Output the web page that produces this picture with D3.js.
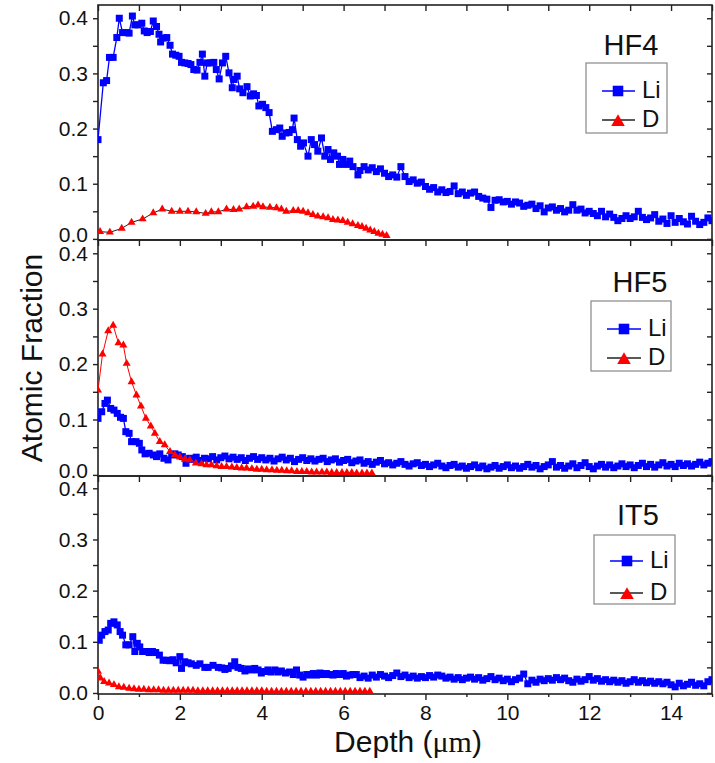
<!DOCTYPE html>
<html>
<head>
<meta charset="utf-8">
<script src="https://cdn.jsdelivr.net/npm/d3@7"></script>
<style>
  body { margin: 0; background: #fff; }
  svg { display: block; }
  text { font-family: "Liberation Sans", Arial, sans-serif; fill: #111; }
</style>
</head>
<body>
<svg id="chart" width="715" height="763"></svg>
<script>
// ---- tick labels & names ----
const depthTicks = [0, 2, 4, 6, 8, 10, 12, 14];
const fractionTicks = [0, 0.1, 0.2, 0.3, 0.4];
const sampleNames = ["HF4", "HF5", "IT5"];
const seriesNames = ["Li", "D"];

// ---- depth profiles: [depth (µm), atomic fraction] ----
const hf4Li = [
  [0.00,0.180],[0.13,0.283],[0.21,0.287],[0.28,0.329],[0.37,0.329],[0.46,0.365],[0.52,0.400],[0.60,0.374],
  [0.70,0.374],[0.76,0.373],[0.84,0.404],[0.90,0.388],[0.98,0.388],[1.07,0.391],[1.13,0.377],[1.20,0.374],
  [1.28,0.376],[1.35,0.395],[1.43,0.385],[1.49,0.371],[1.53,0.357],[1.59,0.364],[1.68,0.365],[1.76,0.351],
  [1.82,0.335],[1.90,0.333],[1.98,0.331],[2.04,0.320],[2.12,0.319],[2.20,0.318],[2.27,0.316],[2.34,0.307],
  [2.42,0.306],[2.49,0.320],[2.55,0.335],[2.61,0.295],[2.67,0.319],[2.75,0.319],[2.83,0.320],[2.89,0.307],
  [2.96,0.290],[3.04,0.319],[3.12,0.331],[3.20,0.301],[3.28,0.274],[3.32,0.289],[3.40,0.295],[3.46,0.272],
  [3.54,0.265],[3.64,0.276],[3.72,0.259],[3.80,0.263],[3.87,0.260],[3.93,0.241],[4.02,0.244],[4.10,0.238],
  [4.18,0.229],[4.26,0.195],[4.36,0.198],[4.44,0.201],[4.50,0.186],[4.59,0.192],[4.67,0.193],[4.75,0.198],
  [4.79,0.219],[4.87,0.180],[4.95,0.168],[5.02,0.174],[5.13,0.150],[5.21,0.180],[5.29,0.171],[5.37,0.159],
  [5.46,0.183],[5.54,0.150],[5.62,0.162],[5.68,0.144],[5.76,0.156],[5.85,0.150],[5.90,0.135],[5.98,0.144],
  [6.07,0.135],[6.15,0.141],[6.23,0.131],[6.35,0.116],
  [6.4,0.124],[6.5,0.131],[6.6,0.125],[6.7,0.129],[6.8,0.122],[6.9,0.127],[7.0,0.119],[7.1,0.113],
  [7.2,0.116],[7.3,0.112],[7.4,0.131],[7.5,0.113],[7.6,0.104],[7.7,0.107],[7.8,0.101],[7.9,0.103],
  [8.0,0.095],[8.1,0.090],[8.2,0.093],[8.3,0.085],[8.4,0.089],[8.5,0.084],[8.6,0.086],[8.7,0.096],
  [8.8,0.082],[8.9,0.085],[9.0,0.079],[9.1,0.083],[9.2,0.085],[9.3,0.077],[9.4,0.074],[9.5,0.072],
  [9.6,0.057],[9.7,0.070],[9.8,0.071],[9.9,0.067],[10.0,0.068],[10.1,0.063],[10.2,0.067],[10.3,0.065],
  [10.4,0.059],[10.5,0.061],[10.6,0.063],[10.7,0.055],[10.8,0.060],[10.9,0.049],[11.0,0.056],[11.1,0.058],
  [11.2,0.052],[11.3,0.055],[11.4,0.049],[11.5,0.052],[11.6,0.062],[11.7,0.052],[11.8,0.054],[11.9,0.047],
  [12.0,0.050],[12.1,0.046],[12.2,0.042],[12.3,0.050],[12.4,0.040],[12.5,0.045],[12.6,0.039],[12.7,0.033],
  [12.8,0.037],[12.9,0.042],[13.0,0.037],[13.1,0.040],[13.2,0.050],[13.3,0.039],[13.4,0.035],[13.5,0.038],
  [13.6,0.044],[13.7,0.032],[13.8,0.036],[13.9,0.028],[14.0,0.042],[14.1,0.030],[14.2,0.037],[14.3,0.031],
  [14.4,0.027],[14.5,0.041],[14.6,0.032],[14.7,0.026],[14.8,0.030],[14.9,0.038],[15.0,0.033]
];
const hf4D = [
  [0.05,0.013],[0.29,0.012],[0.58,0.019],[0.82,0.030],[1.09,0.036],[1.35,0.047],[1.57,0.054],[1.80,0.050],
  [2.00,0.050],[2.20,0.050],[2.40,0.049],[2.63,0.046],[2.77,0.049],[2.94,0.049],[3.14,0.054],[3.31,0.053],
  [3.45,0.054],[3.63,0.058],[3.79,0.059],[3.91,0.061],[4.03,0.058],[4.20,0.057],[4.36,0.056],[4.48,0.054],
  [4.60,0.050],[4.77,0.051],[4.89,0.051],[5.01,0.050],[5.13,0.047],[5.25,0.044],[5.37,0.041],[5.50,0.040],
  [5.62,0.038],[5.74,0.035],[5.86,0.034],[5.98,0.033],[6.10,0.030],[6.22,0.027],[6.35,0.024],[6.45,0.022],
  [6.55,0.019],[6.65,0.016],[6.75,0.013],[6.85,0.010],[6.95,0.008],[7.05,0.006]
];
const hf5Li = [
  [0.00,0.102],[0.09,0.114],[0.17,0.129],[0.23,0.135],[0.31,0.120],[0.39,0.117],[0.47,0.111],[0.55,0.104],
  [0.62,0.102],[0.68,0.078],[0.76,0.075],[0.82,0.060],[0.93,0.060],[1.01,0.057],[1.07,0.045],[1.15,0.038],
  [1.25,0.039],[1.35,0.036],[1.43,0.033],[1.51,0.038],[1.61,0.030],[1.71,0.027],[1.80,0.036],[1.88,0.038],
  [1.96,0.036],[2.06,0.033],[2.15,0.021],[2.24,0.030],
  [2.3,0.028],[2.4,0.032],[2.5,0.026],[2.6,0.030],[2.7,0.029],[2.8,0.033],[2.9,0.027],[3.0,0.031],
  [3.1,0.034],[3.2,0.029],[3.3,0.032],[3.4,0.028],[3.5,0.031],[3.6,0.026],[3.7,0.030],[3.8,0.033],
  [3.9,0.028],[4.0,0.031],[4.1,0.027],[4.2,0.030],[4.3,0.025],[4.4,0.029],[4.5,0.032],[4.6,0.027],
  [4.7,0.030],[4.8,0.024],[4.9,0.028],[5.0,0.031],[5.1,0.026],[5.2,0.029],[5.3,0.025],[5.4,0.028],
  [5.5,0.030],[5.6,0.024],[5.7,0.027],[5.8,0.029],[5.9,0.023],[6.0,0.026],[6.1,0.028],[6.2,0.022],
  [6.3,0.025],[6.4,0.027],[6.5,0.021],[6.6,0.024],[6.7,0.019],[6.8,0.023],[6.9,0.026],[7.0,0.020],
  [7.1,0.022],[7.2,0.018],[7.3,0.021],[7.4,0.024],[7.5,0.019],[7.6,0.016],[7.7,0.020],[7.8,0.022],
  [7.9,0.017],[8.0,0.019],[8.1,0.015],[8.2,0.018],[8.3,0.021],[8.4,0.016],[8.5,0.013],[8.6,0.017],
  [8.7,0.019],[8.8,0.014],[8.9,0.016],[9.0,0.012],[9.1,0.015],[9.2,0.018],[9.3,0.013],[9.4,0.016],
  [9.5,0.011],[9.6,0.014],[9.7,0.017],[9.8,0.012],[9.9,0.015],[10.0,0.018],[10.1,0.013],[10.2,0.016],
  [10.3,0.012],[10.4,0.015],[10.5,0.019],[10.6,0.014],[10.7,0.017],[10.8,0.011],[10.9,0.015],[11.0,0.018],
  [11.1,0.024],[11.2,0.014],[11.3,0.017],[11.4,0.012],[11.5,0.016],[11.6,0.020],[11.7,0.013],[11.8,0.017],
  [11.9,0.022],[12.0,0.015],[12.1,0.011],[12.2,0.016],[12.3,0.019],[12.4,0.014],[12.5,0.018],[12.6,0.013],
  [12.7,0.016],[12.8,0.020],[12.9,0.015],[13.0,0.018],[13.1,0.013],[13.2,0.017],[13.3,0.021],[13.4,0.015],
  [13.5,0.019],[13.6,0.014],[13.7,0.018],[13.8,0.022],[13.9,0.016],[14.0,0.019],[14.1,0.015],[14.2,0.021],
  [14.3,0.017],[14.4,0.020],[14.5,0.016],[14.6,0.019],[14.7,0.023],[14.8,0.018],[14.9,0.021],[15.0,0.024]
];
const hf5D = [
  [0.00,0.153],[0.11,0.218],[0.25,0.260],[0.37,0.270],[0.50,0.238],[0.62,0.234],[0.70,0.201],[0.82,0.168],
  [0.94,0.144],[1.05,0.124],[1.17,0.102],[1.29,0.088],[1.39,0.075],[1.51,0.060],[1.63,0.054],[1.76,0.042],
  [1.88,0.036],[2.00,0.032],[2.12,0.028],[2.24,0.027],[2.39,0.021],[2.53,0.020],[2.65,0.018],[2.77,0.018],
  [2.90,0.016],[3.02,0.015],[3.14,0.015],[3.27,0.014],[3.39,0.013],[3.51,0.012],[3.63,0.012],[3.76,0.011],
  [3.88,0.010],[4.00,0.010],[4.12,0.009],[4.25,0.009],[4.37,0.008],[4.49,0.008],[4.61,0.007],[4.73,0.007],
  [4.86,0.006],[4.98,0.006],[5.10,0.006],[5.22,0.005],[5.34,0.005],[5.47,0.005],[5.59,0.005],[5.71,0.004],
  [5.83,0.004],[5.96,0.004],[6.08,0.004],[6.20,0.004],[6.32,0.003],[6.45,0.003],[6.57,0.003],[6.69,0.003]
];
const it5Li = [
  [0.03,0.103],[0.09,0.113],[0.17,0.120],[0.25,0.123],[0.31,0.136],[0.39,0.139],[0.47,0.133],[0.54,0.120],
  [0.60,0.113],[0.68,0.094],[0.76,0.094],[0.85,0.110],[0.90,0.081],[0.96,0.097],[1.02,0.090],[1.09,0.081],
  [1.17,0.081],[1.25,0.079],[1.33,0.081],[1.41,0.079],[1.50,0.074],[1.59,0.064],[1.67,0.064],[1.75,0.063],
  [1.83,0.065],[1.91,0.059],[2.00,0.071],[2.04,0.048],[2.12,0.061],[2.20,0.059],[2.28,0.057],[2.40,0.054],
  [2.49,0.057],[2.61,0.050],[2.69,0.050],[2.81,0.054],[2.94,0.050],[3.02,0.049],[3.10,0.046],[3.18,0.048],
  [3.26,0.053],[3.34,0.061],[3.42,0.050],[3.50,0.048],[3.59,0.043],[3.67,0.047],[3.75,0.045],[3.83,0.048],
  [3.91,0.045],[3.99,0.039],[4.07,0.042],[4.15,0.045],[4.23,0.041],[4.32,0.045],[4.40,0.041],[4.48,0.043],
  [4.58,0.039],[4.68,0.041],[4.77,0.036],[4.85,0.045],[4.93,0.035],[5.01,0.031],[5.10,0.036],[5.18,0.035],
  [5.26,0.038],[5.34,0.035],[5.42,0.039],[5.50,0.036],[5.58,0.038],[5.66,0.036],[5.74,0.035],[5.82,0.038],
  [5.90,0.036],[5.99,0.038],[6.07,0.033],[6.15,0.035],[6.23,0.036],[6.31,0.036],
  [6.4,0.030],[6.5,0.033],[6.6,0.029],[6.7,0.035],[6.8,0.031],[6.9,0.036],[7.0,0.033],[7.1,0.030],
  [7.2,0.034],[7.3,0.039],[7.4,0.032],[7.5,0.035],[7.6,0.030],[7.7,0.033],[7.8,0.029],[7.9,0.032],
  [8.0,0.030],[8.1,0.034],[8.2,0.031],[8.3,0.035],[8.4,0.033],[8.5,0.029],[8.6,0.031],[8.7,0.027],
  [8.8,0.030],[8.9,0.026],[9.0,0.029],[9.1,0.031],[9.2,0.027],[9.3,0.030],[9.4,0.025],[9.5,0.028],
  [9.6,0.032],[9.7,0.026],[9.8,0.029],[9.9,0.024],[10.0,0.027],[10.1,0.022],[10.2,0.026],[10.3,0.029],
  [10.4,0.037],[10.5,0.018],[10.6,0.025],[10.7,0.021],[10.8,0.027],[10.9,0.024],[11.0,0.028],[11.1,0.025],
  [11.2,0.030],[11.3,0.026],[11.4,0.029],[11.5,0.024],[11.6,0.021],[11.7,0.027],[11.8,0.023],[11.9,0.026],
  [12.0,0.032],[12.1,0.025],[12.2,0.028],[12.3,0.023],[12.4,0.026],[12.5,0.022],[12.6,0.025],[12.7,0.021],
  [12.8,0.024],[12.9,0.019],[13.0,0.022],[13.1,0.026],[13.2,0.021],[13.3,0.024],[13.4,0.020],[13.5,0.023],
  [13.6,0.019],[13.7,0.022],[13.8,0.018],[13.9,0.021],[14.0,0.016],[14.1,0.012],[14.2,0.019],[14.3,0.014],
  [14.4,0.017],[14.5,0.021],[14.6,0.015],[14.7,0.018],[14.8,0.014],[14.9,0.022],[15.0,0.026]
];
const it5D = [
  [0.00,0.042],[0.06,0.029],[0.15,0.022],[0.27,0.019],[0.39,0.016],[0.51,0.012],[0.63,0.011],[0.76,0.009],
  [0.88,0.008],[1.00,0.007],[1.12,0.007],[1.24,0.006],[1.36,0.006],[1.48,0.006],[1.60,0.005],[1.72,0.005],
  [1.84,0.005],[1.96,0.005],[2.08,0.005],[2.20,0.005],[2.32,0.005],[2.44,0.004],[2.56,0.004],[2.68,0.004],
  [2.80,0.004],[2.92,0.004],[3.04,0.004],[3.16,0.004],[3.28,0.004],[3.40,0.004],[3.52,0.004],[3.64,0.004],
  [3.76,0.004],[3.88,0.004],[4.00,0.004],[4.12,0.003],[4.24,0.003],[4.36,0.003],[4.48,0.003],[4.60,0.003],
  [4.72,0.003],[4.84,0.003],[4.96,0.003],[5.08,0.003],[5.20,0.003],[5.32,0.003],[5.44,0.003],[5.56,0.003],
  [5.68,0.003],[5.80,0.003],[5.92,0.003],[6.04,0.003],[6.16,0.003],[6.28,0.003],[6.40,0.003],[6.52,0.003],
  [6.64,0.003]
];

// ---- layout ----
const LEFT = 98, RIGHT = 712;
const LI_COLOR = "#0000ff", D_COLOR = "#ff0000", AXIS_COLOR = "#222";

const panels = [
  { name: sampleNames[0], li: hf4Li, d: hf4D, top: 5, bottom: 240, dLine: "#222",
    lg: { titleX: 631, titleY: 50, boxX: 586, boxY: 58, boxW: 81, boxH: 70, rows: [86, 115], x0: 602, x1: 635, mx: 618, tx: 642 } },
  { name: sampleNames[1], li: hf5Li, d: hf5D, top: 240, bottom: 476, dLine: D_COLOR,
    lg: { titleX: 640, titleY: 52, boxX: 591, boxY: 61, boxW: 80, boxH: 70, rows: [89, 118], x0: 607, x1: 641, mx: 624, tx: 648 } },
  { name: sampleNames[2], li: it5Li, d: it5D, top: 476, bottom: 694, dLine: D_COLOR,
    lg: { titleX: 638, titleY: 49, boxX: 594, boxY: 59, boxW: 81, boxH: 69, rows: [85, 117], x0: 610, x1: 643, mx: 627, tx: 650 } }
];

const svg = d3.select("#chart");
const x = d3.scaleLinear().domain([0, 15]).range([LEFT, RIGHT]);
const yMinor = d3.range(0, 0.4001, 0.05);
const xAll = d3.range(0, 15.001, 1);

const squareSym = d3.symbol(d3.symbolSquare, 49);
const triSym = d3.symbol(d3.symbolTriangle, 28);

panels.forEach((p, i) => {
  const y = d3.scaleLinear().domain([-0.002, 0.424]).range([p.bottom, p.top]);
  const g = svg.append("g");

  const clipId = "clip" + i;
  svg.append("clipPath").attr("id", clipId)
    .append("rect").attr("x", LEFT).attr("y", p.top)
    .attr("width", RIGHT - LEFT).attr("height", p.bottom - p.top);

  // left axis (outward ticks, labels)
  const left = g.append("g").attr("transform", `translate(${LEFT},0)`)
    .call(d3.axisLeft(y).tickValues(yMinor).tickSize(5).tickPadding(5)
      .tickFormat(v => fractionTicks.some(t => Math.abs(t - v) < 1e-9) ? d3.format(".1f")(v) : ""));
  // lift the bottom label of the upper panels slightly off the seam
  if (i < panels.length - 1) {
    left.selectAll(".tick").filter(v => Math.abs(v) < 1e-9).select("text").attr("dy", "0.12em");
  }
  // right axis (inward ticks)
  const right = g.append("g").attr("transform", `translate(${RIGHT},0)`)
    .call(d3.axisRight(y).tickValues(yMinor).tickSize(-5).tickFormat(""));
  // top axis (inward ticks)
  const topAx = g.append("g").attr("transform", `translate(0,${p.top})`)
    .call(d3.axisTop(x).tickValues(xAll).tickSize(-6).tickFormat(""));
  [left, right, topAx].forEach(a => {
    a.select(".domain").remove();
    a.selectAll("line").attr("stroke", AXIS_COLOR).attr("stroke-width", 1.4);
    a.selectAll("text").style("font-size", "21px").attr("fill", "#222");
  });

  if (i === panels.length - 1) {
    const bMajor = g.append("g").attr("transform", `translate(0,${p.bottom})`)
      .call(d3.axisBottom(x).tickValues(depthTicks).tickSize(6).tickPadding(5).tickFormat(d3.format("d")));
    const bMinor = g.append("g").attr("transform", `translate(0,${p.bottom})`)
      .call(d3.axisBottom(x).tickValues(xAll.filter(v => v % 2 === 1)).tickSize(3).tickFormat(""));
    [bMajor, bMinor].forEach(a => {
      a.select(".domain").remove();
      a.selectAll("line").attr("stroke", AXIS_COLOR).attr("stroke-width", 1.4);
      a.selectAll("text").style("font-size", "21px").attr("fill", "#222");
    });
  }

  // frame
  g.append("rect").attr("x", LEFT).attr("y", p.top)
    .attr("width", RIGHT - LEFT).attr("height", p.bottom - p.top)
    .attr("fill", "none").attr("stroke", AXIS_COLOR).attr("stroke-width", 1.6);

  const plot = g.append("g").attr("clip-path", `url(#${clipId})`);
  const line = d3.line().x(d => x(d[0])).y(d => y(d[1]));

  // Li profile
  plot.append("path").datum(p.li).attr("d", line)
    .attr("fill", "none").attr("stroke", LI_COLOR).attr("stroke-width", 1.3);
  plot.selectAll(".li").data(p.li).join("path")
    .attr("transform", d => `translate(${x(d[0])},${y(d[1])})`)
    .attr("d", squareSym).attr("fill", LI_COLOR);

  // D profile
  plot.append("path").datum(p.d).attr("d", line)
    .attr("fill", "none").attr("stroke", p.dLine).attr("stroke-width", 1);
  plot.selectAll(".dd").data(p.d).join("path")
    .attr("transform", d => `translate(${x(d[0])},${y(d[1])})`)
    .attr("d", triSym).attr("fill", D_COLOR);

  // sample title + legend
  const lg = p.lg;
  g.append("text").attr("x", lg.titleX).attr("y", p.top + lg.titleY)
    .attr("text-anchor", "middle").style("font-size", "29px").text(p.name);
  g.append("rect").attr("x", lg.boxX).attr("y", p.top + lg.boxY)
    .attr("width", lg.boxW).attr("height", lg.boxH)
    .attr("fill", "#fff").attr("stroke", "#888").attr("stroke-width", 1.2);

  seriesNames.forEach((s, k) => {
    const ry = p.top + lg.rows[k];
    g.append("line").attr("x1", lg.x0).attr("x2", lg.x1).attr("y1", ry).attr("y2", ry)
      .attr("stroke", k === 0 ? LI_COLOR : "#222").attr("stroke-width", 1.4);
    if (k === 0) {
      g.append("path").attr("transform", `translate(${lg.mx},${ry})`)
        .attr("d", d3.symbol(d3.symbolSquare, 112)()).attr("fill", LI_COLOR);
    } else {
      g.append("path").attr("transform", `translate(${lg.mx},${ry + 2})`)
        .attr("d", d3.symbol(d3.symbolTriangle, 80)()).attr("fill", D_COLOR);
    }
    g.append("text").attr("x", lg.tx).attr("y", ry + 7)
      .style("font-size", "24px").text(s);
  });
});

// axis titles
svg.append("text").attr("transform", "translate(42,358) rotate(-90)")
  .attr("text-anchor", "middle").style("font-size", "30px").text("Atomic Fraction");

const xt = svg.append("text").attr("x", 408).attr("y", 752)
  .attr("text-anchor", "middle").style("font-size", "30px");
xt.append("tspan").text("Depth (");
xt.append("tspan").style("font-family", "'Liberation Serif', 'Times New Roman', serif").text("\u03bcm");
xt.append("tspan").text(")");
</script>
</body>
</html>
